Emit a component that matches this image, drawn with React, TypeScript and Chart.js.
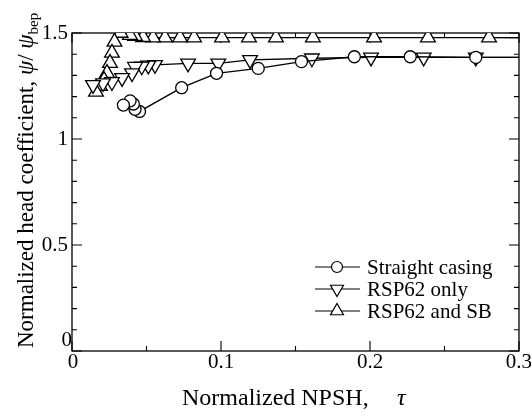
import React, { useEffect, useRef } from "react";
import { Chart, registerables } from "chart.js";

Chart.register(...registerables);

// ---- data ----
const straightTau = [0.32, 0.271, 0.227, 0.1895, 0.154, 0.125, 0.097, 0.0736, 0.0453, 0.0423, 0.0412, 0.039, 0.0345];
const straightPsi = [1.385, 1.385, 1.388, 1.388, 1.365, 1.333, 1.31, 1.242, 1.13, 1.14, 1.165, 1.18, 1.16];

const rspTau = [0.32, 0.271, 0.236, 0.2007, 0.161, 0.1195, 0.0982, 0.0779, 0.0557, 0.0512, 0.0468, 0.0423, 0.0403, 0.0336, 0.0268, 0.0208, 0.0141];
const rspPsi = [1.385, 1.385, 1.385, 1.385, 1.381, 1.373, 1.357, 1.357, 1.35, 1.347, 1.343, 1.341, 1.311, 1.288, 1.269, 1.264, 1.255];

const sbTau = [0.32, 0.2799, 0.2389, 0.2027, 0.1617, 0.1369, 0.1188, 0.1007, 0.0819, 0.0725, 0.0624, 0.0544, 0.0477, 0.0423, 0.0389, 0.0326, 0.0285, 0.0268, 0.0255, 0.0235, 0.0215, 0.0188, 0.0161];
const sbPsi = [1.477, 1.478, 1.478, 1.478, 1.478, 1.478, 1.478, 1.478, 1.478, 1.478, 1.478, 1.478, 1.48, 1.485, 1.49, 1.5, 1.458, 1.406, 1.358, 1.311, 1.278, 1.25, 1.222];

const seriesNames = ["Straight casing", "RSP62 only", "RSP62 and SB"];

const xTickValues = [0, 0.1, 0.2, 0.3];
const xTickLabels = ["0", "0.1", "0.2", "0.3"];
const xMinorStep = 0.05;
const yTickValues = [0, 0.5, 1, 1.5];
const yTickLabels = ["0", "0.5", "1", "1.5"];
const yMinorStep = 0.1;

const SERIF = '"Liberation Serif", "Times New Roman", serif';

function drawMarker(ctx: CanvasRenderingContext2D, style: string, x: number, y: number, r: number) {
  ctx.beginPath();
  if (style === "circle") {
    ctx.arc(x, y, r, 0, Math.PI * 2);
  } else {
    const dir = style === "down" ? 1 : -1;
    ctx.moveTo(x, y + dir * r);
    ctx.lineTo(x + r * Math.sin(Math.PI / 3), y - dir * r / 2);
    ctx.lineTo(x - r * Math.sin(Math.PI / 3), y - dir * r / 2);
    ctx.closePath();
  }
  ctx.fillStyle = "#fff";
  ctx.fill();
  ctx.stroke();
}

const framePlugin = {
  id: "frame",
  beforeDatasetsDraw(chart: any) {
    const ctx: CanvasRenderingContext2D = chart.ctx;
    const a = chart.chartArea;
    const xs = chart.scales.x;
    const ys = chart.scales.y;
    ctx.save();
    ctx.strokeStyle = "#000";
    ctx.lineWidth = 1.3;
    ctx.strokeRect(a.left, a.top, a.right - a.left, a.bottom - a.top);

    // inward ticks
    ctx.lineWidth = 1.1;
    const nx = Math.round((xs.max - xs.min) / xMinorStep);
    for (let i = 0; i <= nx; i++) {
      const v = xs.min + i * xMinorStep;
      const px = xs.getPixelForValue(v);
      const major = xTickValues.some((t) => Math.abs(t - v) < 1e-9);
      const len = major ? 10 : 5;
      ctx.beginPath();
      ctx.moveTo(px, a.bottom);
      ctx.lineTo(px, a.bottom - len);
      ctx.moveTo(px, a.top);
      ctx.lineTo(px, a.top + len);
      ctx.stroke();
    }
    const ny = Math.round((ys.max - ys.min) / yMinorStep);
    for (let i = 0; i <= ny; i++) {
      const v = ys.min + i * yMinorStep;
      const py = ys.getPixelForValue(v);
      const major = yTickValues.some((t) => Math.abs(t - v) < 1e-9);
      const len = major ? 10 : 5;
      ctx.beginPath();
      ctx.moveTo(a.left, py);
      ctx.lineTo(a.left + len, py);
      ctx.moveTo(a.right, py);
      ctx.lineTo(a.right - len, py);
      ctx.stroke();
    }
    ctx.restore();
  },
  afterDraw(chart: any) {
    const ctx: CanvasRenderingContext2D = chart.ctx;
    const a = chart.chartArea;
    const xs = chart.scales.x;
    const ys = chart.scales.y;
    ctx.save();

    // tick labels
    ctx.fillStyle = "#000";
    ctx.font = `21px ${SERIF}`;
    ctx.textBaseline = "middle";
    xTickValues.forEach((v, i) => {
      const px = xs.getPixelForValue(v);
      ctx.textAlign = i === xTickValues.length - 1 ? "right" : "center";
      const dx = i === 0 ? 1 : i === xTickValues.length - 1 ? 13 : 0;
      ctx.fillText(xTickLabels[i], px + dx, a.bottom + 11);
    });
    yTickValues.forEach((v, i) => {
      const py = ys.getPixelForValue(v);
      ctx.textAlign = "right";
      if (v === 0) {
        ctx.fillText(yTickLabels[i], a.left, py - 11);
      } else {
        ctx.fillText(yTickLabels[i], a.left - 4, py);
      }
    });

    // x title
    ctx.textBaseline = "alphabetic";
    ctx.textAlign = "left";
    ctx.font = `24px ${SERIF}`;
    ctx.fillText("Normalized NPSH,", 182, 405);
    ctx.font = `italic 24px ${SERIF}`;
    ctx.fillText("τ", 397, 405);

    // y title (rotated)
    ctx.save();
    ctx.translate(33, 348);
    ctx.rotate(-Math.PI / 2);
    let cx = 0;
    const parts = [
      { t: "Normalized head coefficient, ", f: `23px ${SERIF}`, dy: 0 },
      { t: "ψ", f: `italic 23px ${SERIF}`, dy: 0 },
      { t: "/ ", f: `23px ${SERIF}`, dy: 0 },
      { t: "ψ", f: `italic 23px ${SERIF}`, dy: 0 },
      { t: "bep", f: `15px ${SERIF}`, dy: 5 },
    ];
    parts.forEach((p) => {
      ctx.font = p.f;
      ctx.fillText(p.t, cx, p.dy);
      cx += ctx.measureText(p.t).width;
    });
    ctx.restore();

    // legend
    const styles = ["circle", "down", "up"];
    const radii = [5.5, 7.5, 7.5];
    const rows = [267, 289, 311];
    ctx.lineWidth = 1.2;
    ctx.font = `21px ${SERIF}`;
    seriesNames.forEach((name, i) => {
      const y = rows[i];
      ctx.strokeStyle = "#000";
      ctx.beginPath();
      ctx.moveTo(315, y);
      ctx.lineTo(360, y);
      ctx.stroke();
      drawMarker(ctx, styles[i], 337, y, radii[i]);
      ctx.fillStyle = "#000";
      ctx.textAlign = "left";
      ctx.textBaseline = "alphabetic";
      ctx.fillText(name, 367, y + 7);
    });
    ctx.restore();
  },
};

export default function App() {
  const ref = useRef<HTMLCanvasElement | null>(null);
  useEffect(() => {
    if (!ref.current) return;
    const mk = (tau: number[], psi: number[]) => tau.map((t, i) => ({ x: t, y: psi[i] }));
    const common = {
      borderColor: "#000",
      borderWidth: 1.3,
      pointBackgroundColor: "#fff",
      pointBorderColor: "#000",
      pointBorderWidth: 1.3,
      showLine: true,
      tension: 0,
      fill: false,
    };
    const chart = new Chart(ref.current, {
      type: "scatter",
      data: {
        datasets: [
          { ...common, label: seriesNames[0], data: mk(straightTau, straightPsi), pointStyle: "circle", pointRadius: 6 },
          { ...common, label: seriesNames[1], data: mk(rspTau, rspPsi), pointStyle: "triangle", rotation: 180, pointRadius: 8.5 } as any,
          { ...common, label: seriesNames[2], data: mk(sbTau, sbPsi), pointStyle: "triangle", pointRadius: 8.5 },
        ],
      },
      options: {
        animation: false,
        responsive: false,
        devicePixelRatio: 1,
        layout: { padding: { left: 72, right: 13, top: 33, bottom: 66 } },
        scales: {
          x: { type: "linear", min: 0, max: 0.3, display: false },
          y: { type: "linear", min: 0, max: 1.5, display: false },
        },
        plugins: { legend: { display: false }, tooltip: { enabled: false } },
        events: [],
      },
      plugins: [framePlugin],
    } as any);
    return () => chart.destroy();
  }, []);
  return (
    <div style={{ position: "fixed", left: 0, top: 0, width: 532, height: 417, background: "#fff" }}>
      <canvas ref={ref} width={532} height={417} style={{ display: "block" }} />
    </div>
  );
}
